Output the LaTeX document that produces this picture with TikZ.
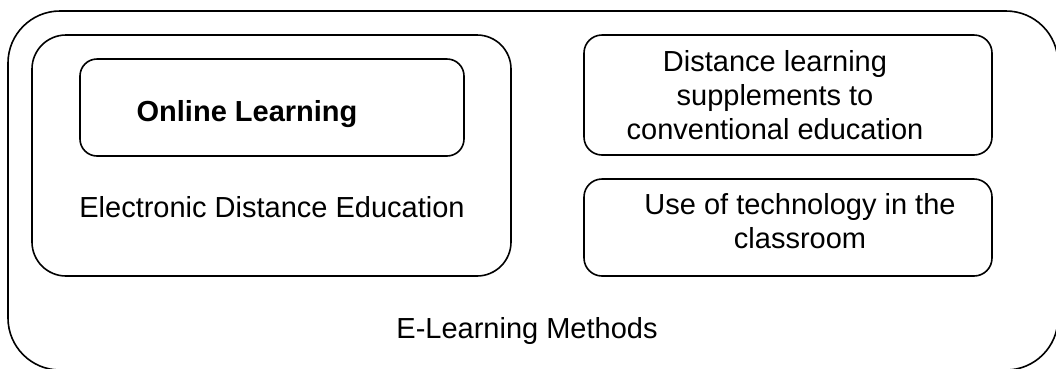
\documentclass[tikz,border=0pt]{standalone}
\usepackage{fontspec}
\setmainfont{Liberation Sans}
\usetikzlibrary{positioning}
\tikzset{
	roundbox/.style={line width=1.6pt},
	boxtext/.style={font=\fontsize{29}{34}\selectfont, align=center, inner sep=0pt}
}

\begin{document}
\begin{tikzpicture}[x=1pt,y=-1pt]
				\useasboundingbox (0,0) rectangle (1056,368);
				% draw outer box
				\draw[roundbox, rounded corners=52pt] (8,11) rectangle (1058,370);
				% draw left boxes
				\draw[roundbox, rounded corners=34pt] (32,35) rectangle (511,276);
				\draw[roundbox, rounded corners=17pt] (80,59) rectangle (464,156);
				% draw right boxes
				\draw[roundbox, rounded corners=18pt] (584,35) rectangle (992,155);
				\draw[roundbox, rounded corners=18pt] (584,179) rectangle (992,276);
				% add labels
				\node[boxtext, anchor=base, font=\fontsize{29}{34}\selectfont\bfseries] (online) at (247,121) {Online Learning};
				\node[boxtext, anchor=base] (distedu) at (272,217) {Electronic Distance Education};
				\node[boxtext] (supplement) at (775,95.5) {Distance learning\\supplements to\\conventional education};
				\node[boxtext] (classroom) at (800,221) {Use of technology in the\\classroom};
				\node[boxtext, anchor=base] (methods) at (527,338) {E-Learning Methods};
			\end{tikzpicture}
\end{document}
